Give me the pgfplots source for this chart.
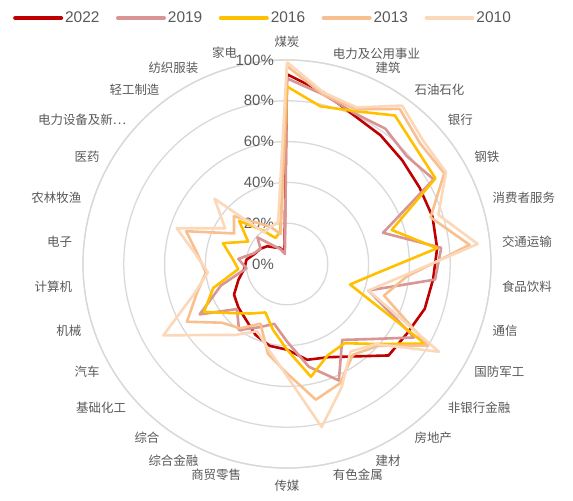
\documentclass[border=0pt]{standalone}
\usepackage{pgfplots}
\pgfplotsset{compat=1.18}
\usepgfplotslibrary{polar}
\usepackage{pgfplotstable}
\usepackage{fontspec}
\setmainfont{Liberation Sans}
\newfontfamily\cjk{Noto Sans CJK SC}
\definecolor{c22}{HTML}{C00000}
\definecolor{c19}{HTML}{D99594}
\definecolor{c16}{HTML}{FFC000}
\definecolor{c13}{HTML}{F8BF8F}
\definecolor{c10}{HTML}{FCD8BA}
\definecolor{gridc}{HTML}{D9D9D9}
\definecolor{txt}{HTML}{595959}

\pgfplotstableread{
idx y22 y19 y16 y13 y10
0  93 91 87 97 99
1  86 85 79 85 86
2  80 81 82 83 84
3  78 82 90 94 96
4  76 79 85 88 90
5  75 83 84 89 90
6  75 49.5 54 74 78
7  74 76 74 90 94
8  72 73 44 59 57
9  71 42 32.5 50 42
10 68 72 78 80 86
11 67 55 58.6 60 58.7
12 56 46 48 55 53
13 50 62.5 49 64 66
14 48 51.5 56.5 68 81.7
15 42 38 42 53.6 55
16 41 30 33 45 43
17 38 34 26 32 36
18 34 40 30 39 43
19 32 33 36 43 52
20 30 49.4 47 56.6 70
21 25 34 38 46.5 48
22 21 20 24 40 39
23 20 24 27 44 45
24 16.5 17 33 52 56.8
25 15 15 22 30 35
26 13 19.5 31.6 35 47.8
27 10 11 20.5 25 19
28 8.8 8 14 20 20
29 6 5 16 15 21
30 93 91 87 97 99
}\data

\begin{document}
\begin{tikzpicture}[
  lab/.style={font=\cjk\fontsize{12.5}{14}\selectfont, text=txt, inner sep=1bp},
  tk/.style={font=\fontsize{15}{17}\selectfont, text=txt, anchor=east, xshift=-12bp, inner sep=1bp},
]
\begin{polaraxis}[
  scale only axis, width=408bp, height=408bp,
  xmin=0, xmax=360, ymin=0, ymax=100,
  xtick=\empty, ytick={20,40,60,80,100}, yticklabels={},
  ymajorgrids, xmajorgrids=false,
  grid style={gridc, line width=1.3bp},
  x axis line style={gridc, line width=1.3bp},
  y axis line style={draw=none},
  major tick style={draw=none},
  clip=false,
  legend columns=5,
  legend style={draw=none, fill=none, at={(0.5,1)}, anchor=center,
    xshift=-24bp, yshift=42bp,
    font=\fontsize{15.5}{18}\selectfont, text=txt,
    /tikz/every even column/.append style={column sep=14.5bp}},
  legend image code/.code={\draw[#1, line width=4bp, line cap=round] (0bp,0bp) -- (46bp,0bp);},
  every axis plot/.append style={line width=2.6bp, line join=round, no markers},
]
\node[tk] at (axis cs:90,0) {0\%};
\node[tk] at (axis cs:90,20) {20\%};
\node[tk] at (axis cs:90,40) {40\%};
\node[tk] at (axis cs:90,60) {60\%};
\node[tk] at (axis cs:90,80) {80\%};
\node[tk] at (axis cs:90,100) {100\%};

\addplot[c22] table[x expr={90-12*\coordindex}, y=y22] {\data};
\addlegendentry{2022}
\addplot[c19] table[x expr={90-12*\coordindex}, y=y19] {\data};
\addlegendentry{2019}
\addplot[c16] table[x expr={90-12*\coordindex}, y=y16] {\data};
\addlegendentry{2016}
\addplot[c13] table[x expr={90-12*\coordindex}, y=y13] {\data};
\addlegendentry{2013}
\addplot[c10] table[x expr={90-12*\coordindex}, y=y10] {\data};
\addlegendentry{2010}

\node[lab, anchor=south] at (axis cs:90,105.4) {煤炭};
\node[lab, anchor=west] at (axis cs:78,105.4) {电力及公用事业};
\node[lab, anchor=west] at (axis cs:66,105.4) {建筑};
\node[lab, anchor=west] at (axis cs:54,105.4) {石油石化};
\node[lab, anchor=west] at (axis cs:42,105.4) {银行};
\node[lab, anchor=west] at (axis cs:30,105.4) {钢铁};
\node[lab, anchor=west] at (axis cs:18,105.4) {消费者服务};
\node[lab, anchor=west] at (axis cs:6,105.4) {交通运输};
\node[lab, anchor=west] at (axis cs:-6,105.4) {食品饮料};
\node[lab, anchor=west] at (axis cs:-18,105.4) {通信};
\node[lab, anchor=west] at (axis cs:-30,105.4) {国防军工};
\node[lab, anchor=west] at (axis cs:-42,105.4) {非银行金融};
\node[lab, anchor=west] at (axis cs:-54,105.4) {房地产};
\node[lab, anchor=west] at (axis cs:-66,105.4) {建材};
\node[lab, anchor=west] at (axis cs:-78,105.4) {有色金属};
\node[lab, anchor=north] at (axis cs:-90,105.4) {传媒};
\node[lab, anchor=east] at (axis cs:-102,105.4) {商贸零售};
\node[lab, anchor=east] at (axis cs:-114,105.4) {综合金融};
\node[lab, anchor=east] at (axis cs:-126,105.4) {综合};
\node[lab, anchor=east] at (axis cs:-138,105.4) {基础化工};
\node[lab, anchor=east] at (axis cs:-150,105.4) {汽车};
\node[lab, anchor=east] at (axis cs:-162,105.4) {机械};
\node[lab, anchor=east] at (axis cs:-174,105.4) {计算机};
\node[lab, anchor=east] at (axis cs:-186,105.4) {电子};
\node[lab, anchor=east] at (axis cs:-198,105.4) {农林牧渔};
\node[lab, anchor=east] at (axis cs:-210,105.4) {医药};
\node[lab, anchor=east] at (axis cs:-222,105.4) {电力设备及新…};
\node[lab, anchor=east] at (axis cs:-234,105.4) {轻工制造};
\node[lab, anchor=east] at (axis cs:-246,105.4) {纺织服装};
\node[lab, anchor=east, xshift=-4bp, yshift=1bp] at (axis cs:-258,105.4) {家电};
\coordinate (O) at (axis cs:0,0);
\end{polaraxis}
\pgfresetboundingbox
\path[use as bounding box] (O) ++(-287bp,-237bp) rectangle ++(573bp,501bp);
\end{tikzpicture}
\end{document}
